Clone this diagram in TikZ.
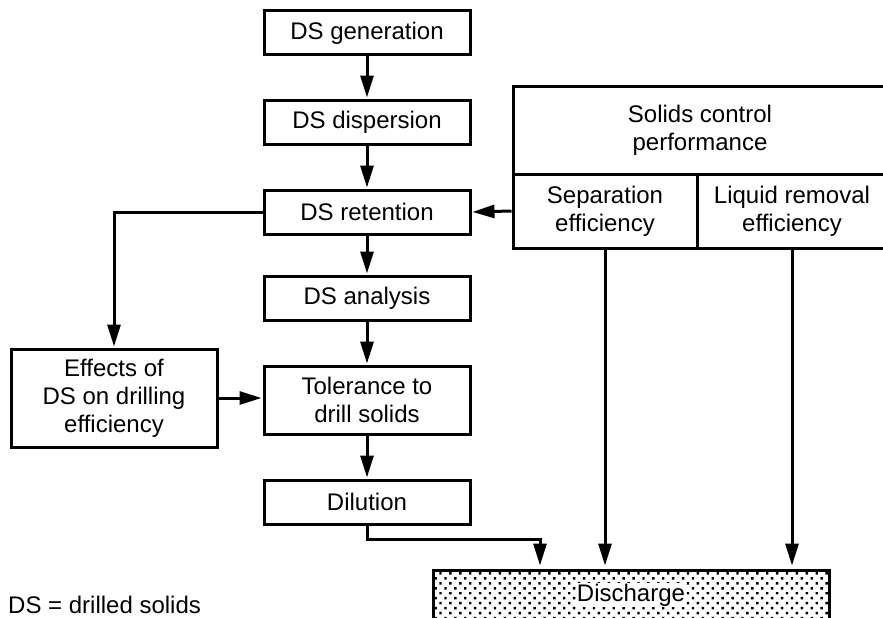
\documentclass[tikz,border=0pt]{standalone}
\usepackage{fontspec}
\setmainfont{Liberation Sans}
\usetikzlibrary{arrows.meta,patterns.meta}

\begin{document}
\begin{tikzpicture}[
    x=1pt, y=-1pt,
    every node/.style={font=\fontsize{24}{28}\selectfont, align=center},
    box/.style={draw, line width=3pt, rectangle, inner sep=0pt,
                minimum width=206pt, minimum height=44pt},
    flow/.style={line width=3pt, -{Triangle[length=22pt,width=13pt]}},
    dotfill/.style={pattern={Dots[distance=7pt,radius=1.7pt,angle=45]}}]

      \useasboundingbox (0,0) rectangle (883,618);

      % main column
      \node[box] (gen) at (367,33)  {DS generation};
      \node[box] (disp) at (367,122) {DS dispersion};
      \node[box] (ret) at (367,212) {DS retention};
      \node[box] (ana) at (367,298) {DS analysis};
      \node[box, minimum height=68pt] (tol) at (367,400) {Tolerance to\\drill solids};
      \node[box] (dil) at (367,502) {Dilution};

      \node[box, minimum height=98pt] (eff) at (114,398) {Effects of\\DS on drilling\\efficiency};

      % solids control
      \node[box, minimum width=374pt, minimum height=88pt] (scp) at (700,130) {Solids control\\performance};
      \node[box, minimum width=184pt, minimum height=74pt] (sep) at (605,211) {Separation\\efficiency};
      \node[box, minimum width=190pt, minimum height=74pt] (liq) at (792,211) {Liquid removal\\efficiency};

      % discharge
      \node[box, dotfill, minimum width=396pt, minimum height=50pt] (dis) at (631,595) {};
      \node[fill=white, inner sep=1pt] (distext) at (dis) {Discharge};

      \node[anchor=base west, inner sep=0pt] (legend) at (8,613) {DS = drilled solids};

      \draw[flow, shorten >=1pt] (gen.south) -- (disp.north);
      \draw[flow, shorten >=1pt] (disp.south) -- (ret.north);
      \draw[flow, shorten >=1pt] (ret.south) -- (ana.north);
      \draw[flow, shorten >=1pt] (ana.south) -- (tol.north);
      \draw[flow, shorten >=1pt] (tol.south) -- (dil.north);

      \draw[flow, shorten >=1pt] (sep.west) -- (ret.east);
      \draw[flow, shorten >=1pt] (ret.west) -| (eff.north);
      \draw[flow, shorten >=1pt] (eff.east) -- (eff.east -| tol.west);

      \draw[flow, shorten >=3pt] (dil.south) -- ++(0,14) -| ([xshift=-91pt]dis.north);
      \draw[flow, shorten >=3pt] (sep.south) -- (sep.south |- dis.north);
      \draw[flow, shorten >=3pt] (liq.south) -- (liq.south |- dis.north);

    \end{tikzpicture}
\end{document}
